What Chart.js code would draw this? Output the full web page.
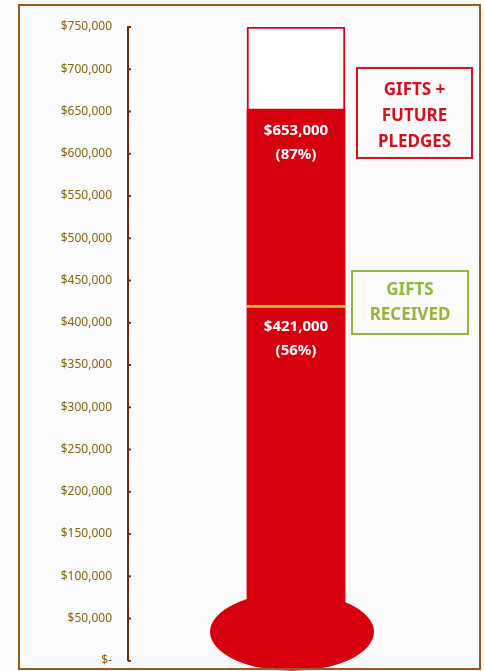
<!DOCTYPE html>
<html>
<head>
<meta charset="utf-8">
<script src="https://cdn.jsdelivr.net/npm/chart.js@4.4.1/dist/chart.umd.min.js"></script>
<style>
  html, body { margin: 0; padding: 0; background: #fbfbfc; }
  #wrap { position: relative; width: 485px; height: 671px; }
  #thermo { display: block; }
  #frame {
    position: absolute; left: 18px; top: 4px; width: 459px; height: 662px;
    border: 2px solid #9a5a1e; pointer-events: none;
  }
</style>
</head>
<body>
<div id="wrap">
  <canvas id="thermo" width="485" height="671"></canvas>
  <div id="frame"></div>
</div>
<script>
"use strict";
// values
var categories = ["Campaign"];
var goal = [750000];
var pledged = [653000];   // gifts + future pledges
var received = [421000];  // gifts received
var boxLabels = [["GIFTS +", "FUTURE", "PLEDGES"], ["GIFTS", "RECEIVED"]];

var RED = "#d6000f";
var GREEN = "#93b63b";

function money(v) {
    return v === 0 ? "$-" : "$" + v.toLocaleString("en-US");
}

// little stubs on the right side of the axis
var axisStubs = {
    id: "axisStubs",
    afterDraw: function(chart) {
        var c = chart.ctx, y = chart.scales.y, x0 = chart.chartArea.left;
        c.save();
        c.strokeStyle = "#6b2e12";
        c.lineWidth = 2;
        y.ticks.forEach(function(t) {
            var py = y.getPixelForValue(t.value);
            c.beginPath();
            c.moveTo(x0, py);
            c.lineTo(x0 + 3, py);
            c.stroke();
        });
        c.restore();
    }
};

// bulb + value labels + side boxes
var thermoDeco = {
    id: "thermoDeco",
    afterDatasetsDraw: function(chart) {
        var c = chart.ctx, y = chart.scales.y;
        var bar = chart.getDatasetMeta(1).data[0];
        var zero = y.getPixelForValue(0);
        c.save();
        // bulb
        c.fillStyle = RED;
        c.beginPath();
        c.ellipse(bar.x - 4, zero - 29, 82, 39, 0, 0, Math.PI * 2);
        c.fill();

        // values inside the tube
        c.fillStyle = "#fff";
        c.font = "bold 15px 'Noto Sans'";
        c.textAlign = "center";
        c.textBaseline = "middle";
        [0, 1].forEach(function(i) {
            var el = chart.getDatasetMeta(i).data[0];
            var v = chart.data.datasets[i].data[0];
            var pct = Math.round(v / goal[0] * 100);
            c.fillText(money(v), el.x, el.y + 22);
            c.fillText("(" + pct + "%)", el.x, el.y + 46);
        });

        // side boxes
        var right = bar.x + bar.width / 2;
        function box(lines, color, value, left, w, h, offTop, lineTop, gap) {
            var top = y.getPixelForValue(value) - offTop;
            c.strokeStyle = color;
            c.lineWidth = 2;
            c.strokeRect(left, top, w, h);
            c.fillStyle = color;
            c.font = "bold 17px 'Noto Sans'";
            lines.forEach(function(s, k) {
                c.fillText(s, left + w / 2, top + lineTop + k * gap);
            });
        }
        box(boxLabels[0], "#d4111b", pledged[0], right + 12, 115, 90, 41, 22, 26);
        box(boxLabels[1], GREEN, received[0], right + 7, 116, 63, 34, 19, 25);
        c.restore();
    }
};

new Chart(document.getElementById("thermo").getContext("2d"), {
    type: "bar",
    data: {
        labels: categories,
        datasets: [{
            label: "Gifts received",
            data: received,
            backgroundColor: RED,
            borderColor: "#c9c93c",
            borderWidth: { top: 3, left: 0, right: 0, bottom: 0 },
            borderSkipped: false
        }, {
            label: "Gifts + future pledges",
            data: pledged,
            backgroundColor: RED,
            borderWidth: 0
        }, {
            label: "Goal",
            data: goal,
            backgroundColor: "#ffffff",
            borderColor: RED,
            borderWidth: 2,
            borderSkipped: false
        }]
    },
    options: {
        responsive: false,
        devicePixelRatio: 1,
        animation: false,
        grouped: false,
        barThickness: 98,
        layout: { padding: { top: 27, bottom: 10, left: 0, right: 21 } },
        plugins: { legend: { display: false }, tooltip: { enabled: false } },
        scales: {
            x: { display: false },
            y: {
                min: 0,
                max: 750000,
                afterFit: function(s) { s.width = 128; },
                border: { display: true, color: "#6b2e12", width: 2 },
                // invisible tick marks only push the labels away from the axis
                grid: { drawOnChartArea: false, drawTicks: true, tickLength: 13, tickColor: "rgba(0,0,0,0)" },
                ticks: {
                    stepSize: 50000,
                    padding: 3,
                    color: "#86650f",
                    font: { family: "'Noto Sans'", size: 12 },
                    callback: function(v) { return money(v); }
                }
            }
        }
    },
    plugins: [axisStubs, thermoDeco]
});
</script>
</body>
</html>
